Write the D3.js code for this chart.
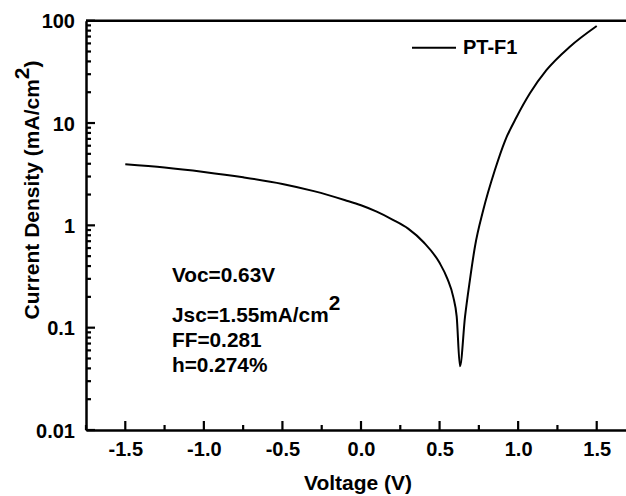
<!DOCTYPE html>
<html>
<head>
<meta charset="utf-8">
<script src="https://cdn.jsdelivr.net/npm/d3@7"></script>
<style>
body { margin: 0; background: #fff; }
svg text { font-family: "Liberation Sans", Arial, sans-serif; font-weight: bold; fill: #000; }
</style>
</head>
<body>
<svg width="626" height="496"></svg>
<script>
// J-V curve of PT-F1
const voltage = [-1.5, -1.25, -1.0, -0.75, -0.5, -0.3, -0.1, 0.0, 0.1, 0.2, 0.3, 0.4, 0.5, 0.55, 0.587, 0.609, 0.63,
                 0.662, 0.693, 0.725, 0.778, 0.852, 0.916, 0.991, 1.075, 1.181, 1.329, 1.5];
const current = [3.95, 3.68, 3.33, 2.95, 2.54, 2.16, 1.76, 1.57, 1.36, 1.14, 0.93, 0.68, 0.43, 0.3, 0.2, 0.128, 0.042,
                 0.128, 0.292, 0.618, 1.41, 3.47, 6.67, 11.5, 19.5, 33.0, 55.7, 88.8];
const seriesName = 'PT-F1';
const xTicks = [-1.5, -1.0, -0.5, 0.0, 0.5, 1.0, 1.5];
const xMinorTicks = [-1.75, -1.25, -0.75, -0.25, 0.25, 0.75, 1.25, 1.75];
const yTicks = [0.01, 0.1, 1, 10, 100];
const notes = ['Voc=0.63V', 'Jsc=1.55mA/cm', 'FF=0.281', 'h=0.274%'];

let svg = d3.select("svg");

let x = d3.scaleLinear().domain([-1.75, 1.75]).range([86, 636]);
let y = d3.scaleLog().domain([0.01, 100]).range([430, 20.7]);

// minor log ticks 2..9 per decade
let yMinorTicks = [];
yTicks.slice(0, -1).forEach(function (d) {
    for (let k = 2; k <= 9; k++) yMinorTicks.push(d * k);
});

// frame (top + right)
svg.append("path")
    .attr("d", "M" + x(-1.75) + "," + y(100) + "H" + x(1.75) + "V" + y(0.01))
    .attr("fill", "none").attr("stroke", "#000").attr("stroke-width", 2.5);

// axes: labels + domain from d3 axis
let gx = svg.append("g").attr("transform", "translate(0," + y(0.01) + ")")
    .call(d3.axisBottom(x).tickValues(xTicks).tickSize(0).tickPadding(12)
        .tickFormat(function (d) { return d.toFixed(1); }));
gx.selectAll("text").style("font-size", "20px");

let gy = svg.append("g").attr("transform", "translate(" + x(-1.75) + ",0)")
    .call(d3.axisLeft(y).tickValues(yTicks).tickSize(0).tickPadding(11)
        .tickFormat(function (d) { return String(d); }));
gy.selectAll("text").style("font-size", "20px").attr("dy", "0.36em");

svg.selectAll(".domain").attr("stroke", "#000").attr("stroke-width", 2.5);

// inward tick marks as small filled rects
let tg = svg.append("g").attr("fill", "#000");
function xMarks(vals, len) {
    tg.selectAll(null).data(vals).enter().append("rect")
        .attr("x", function (d) { return x(d) - 1.1; })
        .attr("y", y(0.01) - len)
        .attr("width", 2.2).attr("height", len);
}
function yMarks(vals, len) {
    tg.selectAll(null).data(vals).enter().append("rect")
        .attr("x", x(-1.75))
        .attr("y", function (d) { return y(d) - 1.1; })
        .attr("width", len).attr("height", 2.2);
}
xMarks(xTicks, 9);
xMarks(xMinorTicks, 5);
yMarks(yTicks, 9);
yMarks(yMinorTicks, 5);

// curve
let line = d3.line()
    .x(function (d, i) { return x(voltage[i]); })
    .y(function (d) { return y(d); })
    .curve(d3.curveMonotoneX);

svg.append("path")
    .datum(current)
    .attr("d", line)
    .attr("fill", "none")
    .attr("stroke", "#000")
    .attr("stroke-width", 2);

// legend
svg.append("line")
    .attr("x1", 412).attr("x2", 456).attr("y1", 47.7).attr("y2", 47.7)
    .attr("stroke", "#000").attr("stroke-width", 2);
svg.append("text").attr("x", 463).attr("y", 53.5).style("font-size", "20px").text(seriesName);

// device parameters
let noteY = [282, 321.5, 346.5, 371.5];
notes.forEach(function (t, i) {
    let tx = svg.append("text").attr("x", 172).attr("y", noteY[i]).style("font-size", "20.8px").text(t);
    if (i === 1) tx.append("tspan").attr("dy", -12).text("2");
});

// axis titles
svg.append("text")
    .attr("x", 358).attr("y", 490)
    .attr("text-anchor", "middle")
    .style("font-size", "21px")
    .text("Voltage (V)");

let yl = svg.append("text")
    .attr("transform", "translate(39,190) rotate(-90)")
    .attr("text-anchor", "middle")
    .style("font-size", "21px");
yl.append("tspan").text("Current Density (mA/cm");
yl.append("tspan").attr("dy", -10).text("2");
yl.append("tspan").attr("dy", 10).text(")");
</script>
</body>
</html>
